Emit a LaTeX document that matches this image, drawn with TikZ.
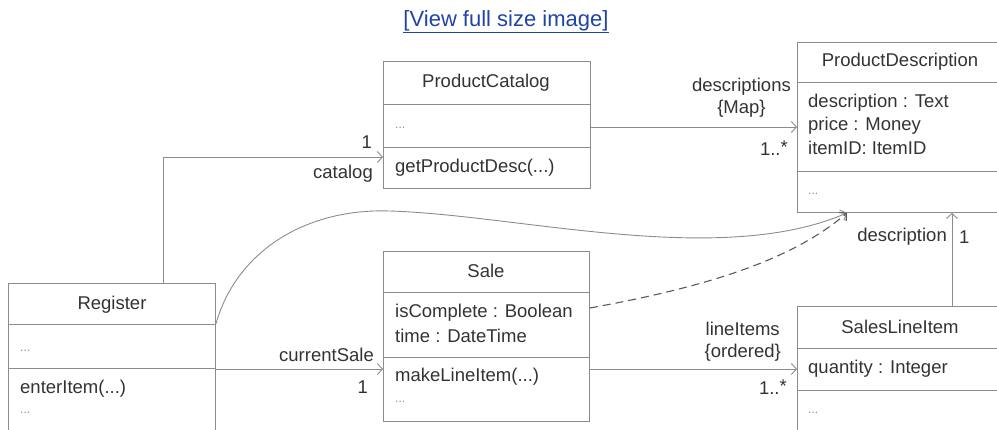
\documentclass[tikz,border=0pt]{standalone}
\usepackage{fontspec}
\setmainfont{Liberation Sans}
\usetikzlibrary{arrows.meta,calc}
\definecolor{ln}{HTML}{8C8C8C}
\definecolor{dl}{HTML}{5A5A5A}
\definecolor{tx}{HTML}{333333}
\definecolor{dt}{HTML}{8A8A8A}
\definecolor{lk}{HTML}{1F44A8}
\begin{document}
\begin{tikzpicture}[x=1pt,y=-1pt,
  every node/.style={text=tx, inner sep=0pt, font=\fontsize{18.5}{22}\selectfont},
  box/.style={draw=ln, line width=0.9pt, anchor=north west, inner sep=0pt},
  sep/.style={draw=ln, line width=0.9pt},
  conn/.style={draw=ln, line width=0.9pt, -{Straight Barb[length=5pt,width=11pt]}},
  dep/.style={draw=dl, line width=1.1pt, dash pattern=on 8pt off 5pt, -{Straight Barb[length=5pt,width=11pt]}},
  title/.style={anchor=center},
  attr/.style={anchor=west},
  dots/.style={anchor=west, text=dt, font=\fontsize{12}{14}\selectfont},
  lbl/.style={align=center}]
\useasboundingbox (0,0) rectangle (997,429);
\clip (0,0) rectangle (997,429);

\node[anchor=center, text=lk, font=\fontsize{22}{26}\selectfont] (link) at (506,22) {\underline{[View full size image]}};

% boxes
\node[box, minimum width=207pt, minimum height=127pt] (pc) at (383,61) {};
\node[box, minimum width=210pt, minimum height=170pt] (pd) at (797,42) {};
\node[box, minimum width=207pt, minimum height=160pt] (reg) at (8,283) {};
\node[box, minimum width=206pt, minimum height=170pt] (sale) at (383,251) {};
\node[box, minimum width=210pt, minimum height=140pt] (sli) at (797,306) {};

% dividers
\draw[sep] ($(pc.north west)+(0,43)$) -- ($(pc.north east)+(0,43)$);
\draw[sep] ($(pc.north west)+(0,86)$) -- ($(pc.north east)+(0,86)$);
\draw[sep] ($(pd.north west)+(0,40)$) -- ($(pd.north east)+(0,40)$);
\draw[sep] ($(pd.north west)+(0,129)$) -- ($(pd.north east)+(0,129)$);
\draw[sep] ($(reg.north west)+(0,41)$) -- ($(reg.north east)+(0,41)$);
\draw[sep] ($(reg.north west)+(0,85)$) -- ($(reg.north east)+(0,85)$);
\draw[sep] ($(sale.north west)+(0,41)$) -- ($(sale.north east)+(0,41)$);
\draw[sep] ($(sale.north west)+(0,106)$) -- ($(sale.north east)+(0,106)$);
\draw[sep] ($(sli.north west)+(0,42)$) -- ($(sli.north east)+(0,42)$);
\draw[sep] ($(sli.north west)+(0,84)$) -- ($(sli.north east)+(0,84)$);

% texts
\node[title] (pct) at (486,83) {ProductCatalog};
\node[dots] (pcd) at (395,128) {...};
\node[attr] (pcm) at (395,168) {getProductDesc(...)};

\node[title] (pdt) at (900,62) {ProductDescription};
\node[attr] (pda1) at (808,103) {description : Text};
\node[attr] (pda2) at (808,126) {price : Money};
\node[attr] (pda3) at (808,148) {itemID: ItemID};
\node[dots] (pdd) at (808,194) {...};

\node[title] (regt) at (112,305) {Register};
\node[dots] (regd1) at (20,351) {...};
\node[attr] (regm) at (20,389) {enterItem(...)};
\node[dots] (regd2) at (20,413) {...};

\node[title] (salet) at (486,271) {Sale};
\node[attr] (salea1) at (395,313) {isComplete : Boolean};
\node[attr] (salea2) at (395,336) {time : DateTime};
\node[attr] (salem) at (395,377) {makeLineItem(...)};
\node[dots] (saled) at (395,402) {...};

\node[title] (slit) at (900,327) {SalesLineItem};
\node[attr] (slia) at (808,369) {quantity : Integer};
\node[dots] (slid) at (808,413) {...};

% connectors
\draw[conn] ($(reg.north west)+(155,0)$) |- ($(pc.north west)+(0,96)$);
\draw[conn] ($(pc.north east)+(0,66)$) -- ($(pd.north west)+(0,85)$);
\draw[conn] ($(reg.north east)+(0,86)$) -- ($(sale.north west)+(0,118)$);
\draw[conn] ($(sale.north east)+(0,118)$) -- ($(sli.north west)+(0,63)$);
\draw[conn] ($(sli.north west)+(155,0)$) -- ($(pd.south west)+(155,0)$);
\draw[conn] ($(reg.north east)+(0,41)$) .. controls (236,252) and (305,208) .. (390,211)
   .. controls (520,215) and (720,268) .. ($(pd.south west)+(50,0)$);
\draw[dep] ($(sale.north east)+(0,57)$) .. controls (700,288) and (790,262) .. ($(pd.south west)+(50,0)$);

% labels
\node[anchor=east] (l1) at (372,142) {1};
\node[anchor=east] (lcat) at (373,174) {catalog};
\node[lbl, anchor=south east] (ldesc) at (791,118) {descriptions\\\{Map\}};
\node[anchor=east] (lm1) at (788,148) {1..\raisebox{2pt}{*}};
\node[anchor=east] (lcs) at (374,355) {currentSale};
\node[anchor=east] (l2) at (368,387) {1};
\node[lbl, anchor=south east] (lli) at (781,362) {lineItems\\\{ordered\}};
\node[anchor=east] (lm2) at (787,387) {1..\raisebox{2pt}{*}};
\node[anchor=east] (ld) at (947,237) {description};
\node[anchor=west] (l3) at (959,237) {1};
\end{tikzpicture}
\end{document}
